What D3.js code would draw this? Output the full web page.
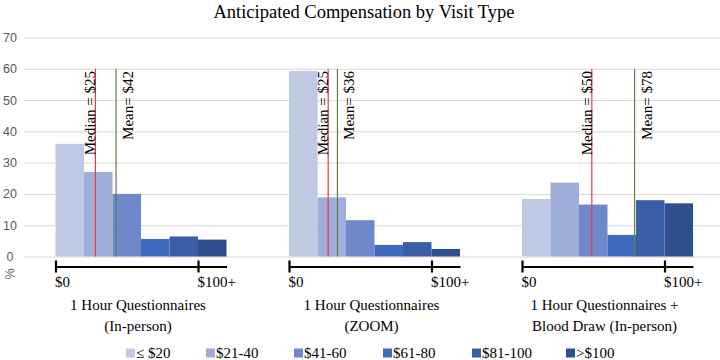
<!DOCTYPE html>
<html>
<head>
<meta charset="utf-8">
<title>Anticipated Compensation by Visit Type</title>
<script src="https://d3js.org/d3.v7.min.js"></script>
<style>
  body { margin: 0; background: #fff; }
  svg text { font-family: "Liberation Serif", "Times New Roman", serif; }
</style>
</head>
<body>
<div id="chart"></div>
<script>
// Data
const bins = ["≤ $20", "$21-40", "$41-60", "$61-80", "$81-100", ">$100"]
const visitLabels = [
    ["1 Hour Questionnaires", "(In-person)"],
    ["1 Hour Questionnaires", "(ZOOM)"],
    ["1 Hour Questionnaires +", "Blood Draw (In-person)"]
]
const inPerson = [36, 27, 20, 5.6, 6.4, 5.4]
const zoomVisit = [59.3, 18.9, 11.6, 3.7, 4.6, 2.4]
const bloodDraw = [18.4, 23.6, 16.6, 6.9, 18.0, 17.0]
const medians = [25, 25, 50]
const means = [42, 36, 78]
// where the marker lines sit on the $ axis
const medianPos = [28, 27.5, 49]
const meanPos = [42.5, 34, 79]
const yTicks = [0, 10, 20, 30, 40, 50, 60, 70]

const series = [inPerson, zoomVisit, bloodDraw]
const colors = ["#bfc9e4", "#9eaed9", "#6e88cb", "#3d6bbd", "#3a5fa8", "#2f4f8c"]

const w = 720
const h = 360
const groupLeft = [55.5, 289, 522]
const groupWidth = 171

const svg = d3.select("#chart").append("svg")
    .attr("width", w)
    .attr("height", h)

// Title
svg.append("text")
    .attr("x", 364)
    .attr("y", 18)
    .attr("text-anchor", "middle")
    .attr("font-size", 18.5)
    .attr("fill", "#000")
    .text("Anticipated Compensation by Visit Type")

// Y scale + gridlines
const yScale = d3.scaleLinear().domain([0, 70]).range([256.5, 37.5])

const yAxis = svg.append("g")
    .attr("transform", "translate(24,0)")
    .call(d3.axisLeft(yScale).tickValues(yTicks).tickSize(-(w - 24)).tickFormat(d3.format("d")))
yAxis.select(".domain").remove()
yAxis.selectAll(".tick line").attr("stroke", "#d9d9d9").attr("stroke-width", 1)
yAxis.selectAll(".tick text")
    .attr("x", -14)
    .attr("text-anchor", "middle")
    .attr("fill", "#595959")
    .style("font-family", "'Liberation Sans', Arial, sans-serif")
    .attr("font-size", 12.5)

svg.append("text")
    .attr("transform", "translate(14,274)rotate(-90)")
    .attr("text-anchor", "middle")
    .attr("fill", "#595959")
    .style("font-family", "'Liberation Sans', Arial, sans-serif")
    .attr("font-size", 12.5)
    .text("%")

// Groups
series.forEach((values, g) => {
    const x0 = groupLeft[g]
    const xScale = d3.scaleLinear().domain([0, 120]).range([x0, x0 + groupWidth])
    const band = d3.scaleBand().domain(bins).range([x0, x0 + groupWidth])
    const grp = svg.append("g")

    grp.selectAll("rect")
        .data(values)
        .enter()
        .append("rect")
        .attr("x", (d, i) => band(bins[i]))
        .attr("y", d => yScale(d))
        .attr("width", band.bandwidth())
        .attr("height", d => yScale(0) - yScale(d))
        .attr("fill", (d, i) => colors[i])

    // median line + label
    const mx = xScale(medianPos[g])
    grp.append("line")
        .attr("x1", mx).attr("x2", mx)
        .attr("y1", yScale(60)).attr("y2", yScale(0))
        .attr("stroke", "#ee3b43").attr("stroke-width", 1.2)
    grp.append("text")
        .attr("transform", `translate(${mx},71)rotate(-90)`)
        .attr("text-anchor", "end")
        .attr("font-size", 15)
        .attr("fill", "#000")
        .text(`Median = $${medians[g]}`)

    // mean line + label
    const ax = xScale(meanPos[g])
    grp.append("line")
        .attr("x1", ax).attr("x2", ax)
        .attr("y1", yScale(60)).attr("y2", yScale(0))
        .attr("stroke", "#5d7f45").attr("stroke-width", 1.2)
    grp.append("text")
        .attr("transform", `translate(${ax + 17},71)rotate(-90)`)
        .attr("text-anchor", "end")
        .attr("font-size", 15)
        .attr("fill", "#000")
        .text(`Mean= $${means[g]}`)

    // $ axis bracket
    const xAxis = grp.append("g")
        .attr("transform", "translate(0,266.5)")
        .call(d3.axisBottom(xScale).tickValues([0, 100]).tickSizeOuter(0)
            .tickFormat(d => d === 0 ? "$0" : "$100+"))
    xAxis.select(".domain").attr("stroke", "#000").attr("stroke-width", 2.2)
    xAxis.selectAll(".tick line").attr("y1", -6).attr("y2", 6)
        .attr("stroke", "#000").attr("stroke-width", 2.2)
    xAxis.selectAll(".tick text")
        .attr("text-anchor", "start")
        .attr("x", -1)
        .attr("y", 20)
        .attr("dy", 0)
        .attr("font-size", 15)
        .attr("fill", "#000")
        .style("font-family", "'Liberation Serif', 'Times New Roman', serif")

    // category label
    const cx = x0 + groupWidth / 2 - 3
    visitLabels[g].forEach((line, k) => {
        svg.append("text")
            .attr("x", cx)
            .attr("y", 310 + k * 21)
            .attr("text-anchor", "middle")
            .attr("font-size", 15)
            .attr("fill", "#000")
            .text(line)
    })
})

// Legend
const legendX = [126, 206, 294, 383, 472, 566]
const legend = svg.selectAll(".legend")
    .data(bins)
    .enter()
    .append("g")
    .attr("transform", (d, i) => `translate(${legendX[i]},353)`)
legend.append("rect")
    .attr("x", 0).attr("y", -4.5)
    .attr("width", 9).attr("height", 9)
    .attr("fill", (d, i) => colors[i])
legend.append("text")
    .attr("x", 10)
    .attr("y", 5)
    .attr("font-size", 15)
    .attr("fill", "#000")
    .text(d => d)
</script>
</body>
</html>
